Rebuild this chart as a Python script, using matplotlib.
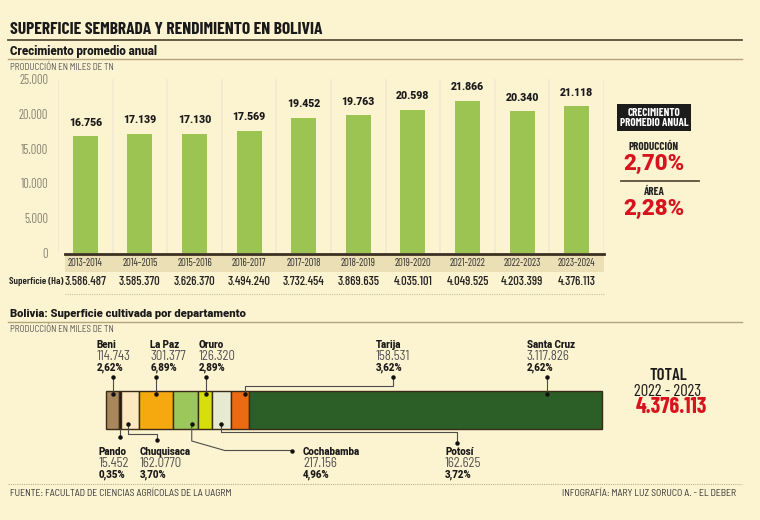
import matplotlib
matplotlib.use('Agg')
import matplotlib.pyplot as plt
from matplotlib.patches import Rectangle
from matplotlib.lines import Line2D
from matplotlib.transforms import blended_transform_factory

# ---------------- data ----------------
seasons = ["2013-2014", "2014–2015", "2015-2016", "2016-2017", "2017-2018",
           "2018-2019", "2019-2020", "2021-2022", "2022-2023", "2023-2024"]
production = [16756, 17139, 17130, 17569, 19452, 19763, 20598, 21866, 20340, 21118]
surface_labels = ["3.586.487", "3.585.370", "3.626.370", "3.494.240", "3.732.454",
                  "3.869.635", "4.035.101", "4.049.525", "4.203.399", "4.376.113"]
y_ticks = [0, 5000, 10000, 15000, 20000, 25000]

departments = ["Beni", "Pando", "Chuquisaca", "La Paz", "Cochabamba",
               "Oruro", "Potosí", "Tarija", "Santa Cruz"]
dept_values = [114743, 15452, 162077, 301377, 217156, 126320, 162625, 158531, 3117826]
dept_value_labels = ["114.743", "15.452", "162.0770", "301.377", "217.156",
                     "126.320", "162.625", "158.531", "3.117.826"]
dept_pct_labels = ["2,62%", "0,35%", "3,70%", "6,89%", "4,96%",
                   "2,89%", "3,72%", "3,62%", "2,62%"]
growth_production = "2,70%"
growth_area = "2,28%"
total_period = "2022 - 2023"
total_label = "4.376.113"

# ---------------- style ----------------
BG = "#fcf3d1"
GREEN = "#9bc453"
BAND = "#ebdfb6"
RED = "#d7141e"
DARK = "#3b3022"
COND = ["Barlow Condensed", "DejaVu Sans"]
SEMI = ["Barlow Semi Condensed", "DejaVu Sans"]
HEAVY = ["Roboto", "DejaVu Sans"]
dept_colors = ["#a8875c", "#141008", "#fde8bf", "#f6a90f", "#9cc75a",
               "#d6df0a", "#e6ead0", "#ec6a12", "#2c5f28"]

W, H = 760, 520
def X(px):
    return px / W
def Y(py):
    return 1 - py / H

fig = plt.figure(figsize=(7.6, 5.2), dpi=100)
fig.patch.set_facecolor(BG)

def hline(x0, x1, y, **kw):
    fig.add_artist(Line2D([X(x0), X(x1)], [Y(y), Y(y)], **kw))

# ---------------- headings ----------------
fig.text(X(10), Y(30), "SUPERFICIE SEMBRADA Y RENDIMIENTO EN BOLIVIA",
         family=COND, fontweight='bold', fontsize=12.6, color="#1a1a1a", va='center')
hline(8, 742, 39.5, color="#5a4e38", lw=1.3)
fig.text(X(10), Y(51), "Crecimiento promedio anual", family=HEAVY,
         fontweight='black', fontsize=8.3, color="#1a1a1a", va='center')
hline(8, 742, 58.5, color="#b3a57c", lw=1.0)
fig.text(X(10), Y(67), "PRODUCCIÓN EN MILES DE TN", family=SEMI,
         fontsize=6.5, color="#555", va='center')

# ---------------- bar chart ----------------
ax = fig.add_axes([X(58), Y(253), X(604) - X(58), Y(79) - Y(253)])
ax.set_facecolor('none')
ax.set_xlim(-0.5, len(seasons) - 0.5)
ax.set_ylim(0, 25000)
for s in ax.spines.values():
    s.set_visible(False)
ax.set_xticks([])
ax.set_yticks(y_ticks)
ax.set_yticklabels([f"{v:,}".replace(",", ".") for v in y_ticks],
                   family=COND, fontsize=9, color="#8a8676")
ax.tick_params(axis='y', length=0, pad=7)

for i in range(len(seasons) + 1):
    ax.axvline(i - 0.5, color="#f2ebd3", lw=1.4, zorder=0)

xs = list(range(len(seasons)))
ax.bar(xs, production, width=0.46, color=GREEN, zorder=2)
for i, v in zip(xs, production):
    ax.annotate(f"{v:,}".replace(",", "."), (i, v), xytext=(0, 6),
                textcoords='offset points', ha='center', va='bottom',
                family=HEAVY, fontweight='black', fontsize=7.6, color="#1a1a1a")

# axis baseline and category band
fig.add_artist(Rectangle((X(65), Y(272)), X(604) - X(65), Y(255) - Y(272),
                         color=BAND, lw=0, zorder=-1))
hline(65, 604, 254, color=DARK, lw=2)
trans = blended_transform_factory(ax.transData, fig.transFigure)
for i, s in zip(xs, seasons):
    ax.text(i, Y(263.5), s, transform=trans, ha='center', va='center',
            family=COND, fontsize=7.6, color="#333", clip_on=False)

fig.text(X(63), Y(282), "Superficie (Ha)", family=COND, fontsize=7.4,
         fontweight='semibold', color="#222", va='center', ha='right')
for i, s in zip(xs, surface_labels):
    ax.text(i, Y(282), s, transform=trans, ha='center', va='center',
            family=COND, fontweight='medium', fontsize=9, color="#222", clip_on=False)
hline(65, 604, 294, color="#cfc29c", lw=0.8, linestyle=(0, (1, 1)))

# ---------------- growth box ----------------
fig.add_artist(Rectangle((X(617), Y(131)), X(691) - X(617), Y(104) - Y(131),
                         color="#1c1c1c", lw=0))
fig.text(X(654), Y(117.5), "CRECIMIENTO\nPROMEDIO ANUAL", family=COND,
         fontweight='bold', fontsize=8, color="white", ha='center', va='center',
         linespacing=1.0)
fig.text(X(654), Y(147), "PRODUCCIÓN", family=COND, fontweight='bold',
         fontsize=8, color="#222", ha='center', va='center')
fig.text(X(654), Y(163.5), growth_production, family=HEAVY, fontweight='black',
         fontsize=16, color=RED, ha='center', va='center')
hline(621, 699, 180.5, color="#5a4e38", lw=1.3)
fig.text(X(654), Y(192), "ÁREA", family=COND, fontweight='bold',
         fontsize=8, color="#222", ha='center', va='center')
fig.text(X(654), Y(209), growth_area, family=HEAVY, fontweight='black',
         fontsize=16, color=RED, ha='center', va='center')

# ---------------- second section ----------------
fig.text(X(10), Y(314), "Bolivia: Superficie cultivada por departamento",
         family=HEAVY, fontweight='black', fontsize=8.1, color="#1a1a1a", va='center')
hline(8, 742, 322, color="#b3a57c", lw=1.0)
fig.text(X(10), Y(329), "PRODUCCIÓN EN MILES DE TN", family=SEMI,
         fontsize=6.5, color="#555", va='center')

total = sum(dept_values)
ax2 = fig.add_axes([X(106), Y(429), X(602) - X(106), Y(391) - Y(429)])
ax2.set_xlim(0, total)
ax2.set_ylim(0, 1)
ax2.axis('off')
lefts = []
acc = 0
for v in dept_values:
    lefts.append(acc)
    acc += v
ax2.barh(0.5, dept_values, left=lefts, height=1, color=dept_colors,
         edgecolor="#3a2a18", lw=1.0, clip_on=False)

# leader layout per department (label placement only)
layout = {
    "Beni": dict(side='top', frac=0.5, kind='straight', dx=-16),
    "Pando": dict(side='bottom', frac=0.5, kind='straight', dx=-21, inner=False, oy=437),
    "Chuquisaca": dict(side='bottom', frac=0.4, kind='elbow', ey=434, ox=157, oy=440, dx=-17),
    "La Paz": dict(side='top', frac=0.5, kind='straight', dx=-6),
    "Cochabamba": dict(side='bottom', frac=0.75, kind='diag', oy=451, ox=292, dx=11),
    "Oruro": dict(side='top', frac=0.6, kind='straight', dx=-8),
    "Potosí": dict(side='bottom', frac=0.5, kind='elbow', ey=432, ox=457, oy=443, dx=-12),
    "Tarija": dict(side='top', frac=0.8, kind='elbow', ey=386, ox=393, dx=-17),
    "Santa Cruz": dict(side='top', frac=0.844, kind='straight', dx=-20),
}

fig.canvas.draw()
def data_to_px(xd):
    disp = ax2.transData.transform((xd, 0.5))
    return disp[0] / fig.dpi / fig.get_size_inches()[0] * W

LC = "#4d4d4d"
def poly(pts):
    fig.add_artist(Line2D([X(p[0]) for p in pts], [Y(p[1]) for p in pts],
                          color=LC, lw=0.8))
def dot(x, y):
    fig.add_artist(Line2D([X(x)], [Y(y)], marker='o', markersize=2.2,
                          color="#111", lw=0))

for name, val, left, vlab, plab in zip(departments, dept_values, lefts,
                                        dept_value_labels, dept_pct_labels):
    L = layout[name]
    bx = data_to_px(left + L['frac'] * val)
    if L['side'] == 'top':
        iy, oy = 393.5, 377
        ty = [345, 356.5, 367.5]
    else:
        iy, oy = 424, L.get('oy', 440)
        ty = [452, 463.5, 474.5]
    if L['kind'] == 'straight':
        ox = bx
        start_y = iy if L.get('inner', True) else 429
        poly([(bx, start_y), (bx, oy)])
    elif L['kind'] == 'elbow':
        ox = L['ox']
        oy = L.get('oy', oy)
        poly([(bx, iy), (bx, L['ey']), (ox, L['ey']), (ox, oy)])
    else:
        ox = L['ox']
        poly([(bx, iy), (bx, 441), (bx + 33, oy - 0.5), (ox, oy - 0.5)])
    if L.get('inner', True):
        dot(bx, iy)
    dot(ox, oy)
    tx = ox + L['dx']
    fig.text(X(tx), Y(ty[0]), name, family=HEAVY, fontweight='black',
             fontsize=7, color="#1a1a1a", va='center')
    fig.text(X(tx), Y(ty[1]), vlab, family=SEMI, fontsize=9.2,
             color="#4e4e4e", va='center')
    fig.text(X(tx), Y(ty[2]), plab, family=HEAVY, fontweight='black',
             fontsize=7, color="#1a1a1a", va='center')

# total block
fig.text(X(668), Y(376), "TOTAL", family=COND, fontsize=12,
         fontweight='semibold', color="#1a1a1a", ha='center', va='center')
fig.text(X(668), Y(391), total_period, family=COND, fontsize=12,
         color="#1a1a1a", ha='center', va='center')
fig.text(X(671), Y(407), total_label, family=COND, fontsize=16,
         fontweight='bold', color=RED, ha='center', va='center')

# footer
hline(8, 742, 484, color="#bdb08a", lw=0.8, linestyle=(0, (1, 1)))
fig.text(X(10), Y(493), "FUENTE: FACULTAD DE CIENCIAS AGRÍCOLAS DE LA UAGRM",
         family=SEMI, fontsize=7, color="#333", va='center')
fig.text(X(736), Y(493), "INFOGRAFÍA: MARY LUZ SORUCO A. - EL DEBER",
         family=SEMI, fontsize=7, color="#333", va='center', ha='right')

fig.savefig("out.png", dpi=100, facecolor=BG)
